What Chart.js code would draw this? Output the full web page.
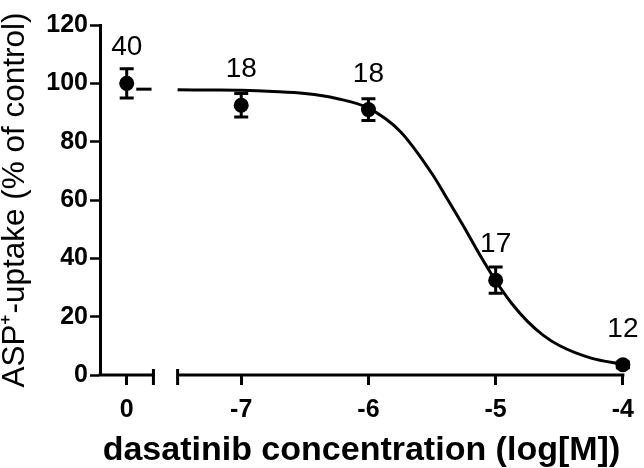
<!DOCTYPE html>
<html>
<head>
<meta charset="utf-8">
<script src="https://cdn.jsdelivr.net/npm/chart.js@4.4.1/dist/chart.umd.min.js"></script>
<style>
  body { margin: 0; background: #fff; }
  #wrap { width: 644px; height: 468px; }
</style>
</head>
<body>
<div id="wrap"><canvas id="chart" width="644" height="468"></canvas></div>
<script>
// x positions on a broken log axis: the control ("0") sits left of the break
var controlX = -7.9;
var breakLeft = -7.69;
var breakRight = -7.5;

var xTicks = [controlX, -7, -6, -5, -4];
var xTickLabels = ['0', '-7', '-6', '-5', '-4'];

// measured means, SEM and n
var pointX = [controlX, -7, -6, -5, -4];
var meanY = [100, 92.5, 91, 32.5, 3.5];
var semY = [5, 4, 3.7, 4.5, 1];
var nLabels = ['40', '18', '18', '17', '12'];

// fitted curve
var curveX = [-7.5, -7.25, -7, -6.75, -6.5, -6.25, -6, -5.75, -5.5, -5.375, -5.25, -5.125, -5, -4.875, -4.75, -4.625, -4.5, -4.25, -4];
var curveY = [97.8, 97.7, 97.6, 97.2, 96.5, 94.8, 91.5, 83.5, 69, 60, 50.8, 41.2, 32.3, 24.6, 18.4, 13.6, 10.1, 5.8, 3.7];

// plateau line drawn next to the control
var controlLineX = [-7.825, -7.705];
var controlLineY = [98, 98];

var fontFam = '"Liberation Sans", Arial, Helvetica, sans-serif';

function toXY(xs, ys) {
  return xs.map(function (x, i) { return { x: x, y: ys[i] }; });
}

// error bars, n labels and the broken x axis
var extras = {
  id: 'extras',
  afterDatasetsDraw: function (chart) {
    var ctx = chart.ctx;
    var xs = chart.scales.x, ys = chart.scales.y;
    ctx.save();
    ctx.strokeStyle = '#000';
    ctx.fillStyle = '#000';
    ctx.lineWidth = 3;
    for (var i = 0; i < pointX.length; i++) {
      var px = xs.getPixelForValue(pointX[i]);
      var top = ys.getPixelForValue(meanY[i] + semY[i]);
      var bot = ys.getPixelForValue(meanY[i] - semY[i]);
      ctx.beginPath();
      ctx.moveTo(px, top); ctx.lineTo(px, bot);
      ctx.moveTo(px - 7, top); ctx.lineTo(px + 7, top);
      ctx.moveTo(px - 7, bot); ctx.lineTo(px + 7, bot);
      ctx.stroke();
      ctx.font = '28px ' + fontFam;
      ctx.textAlign = 'center';
      ctx.textBaseline = 'alphabetic';
      ctx.fillText(nLabels[i], px, ys.getPixelForValue(meanY[i]) - 28);
    }
    // x axis in two pieces
    var y0 = ys.getPixelForValue(0);
    var l = chart.chartArea.left, r = chart.chartArea.right;
    var bl = xs.getPixelForValue(breakLeft), br = xs.getPixelForValue(breakRight);
    ctx.lineWidth = 3;
    ctx.beginPath();
    ctx.moveTo(l - 1.5, y0); ctx.lineTo(bl, y0);
    ctx.moveTo(br, y0); ctx.lineTo(r + 1.5, y0);
    ctx.moveTo(bl, y0 - 6); ctx.lineTo(bl, y0 + 10);
    ctx.moveTo(br, y0 - 6); ctx.lineTo(br, y0 + 10);
    ctx.stroke();
    ctx.restore();
  }
};

var ctx = document.getElementById('chart').getContext('2d');
var chart = new Chart(ctx, {
  type: 'scatter',
  data: {
    datasets: [
      {
        data: toXY(curveX, curveY),
        showLine: true,
        borderColor: '#000',
        borderWidth: 3,
        pointRadius: 0,
        cubicInterpolationMode: 'monotone',
        clip: false
      },
      {
        data: toXY(controlLineX, controlLineY),
        showLine: true,
        borderColor: '#000',
        borderWidth: 3,
        pointRadius: 0
      },
      {
        data: toXY(pointX, meanY),
        showLine: false,
        pointRadius: 7.5,
        pointBackgroundColor: '#000',
        pointBorderColor: '#000',
        pointBorderWidth: 0,
        clip: false
      }
    ]
  },
  options: {
    responsive: false,
    animation: false,
    devicePixelRatio: 1,
    layout: { padding: { top: 25, right: 16, left: 0, bottom: 0 } },
    plugins: { legend: { display: false }, tooltip: { enabled: false } },
    scales: {
      x: {
        type: 'linear',
        min: -8.11,
        max: -4,
        afterBuildTicks: function (scale) {
          scale.ticks = xTicks.map(function (v) { return { value: v }; });
        },
        afterFit: function (scale) { scale.height = 93; },
        border: { display: false },
        grid: { drawOnChartArea: false, drawTicks: true, tickLength: 10, tickWidth: 3, tickColor: '#000' },
        ticks: {
          autoSkip: false,
          maxRotation: 0,
          padding: 10,
          color: '#000',
          font: { family: fontFam, size: 25, weight: 'bold' },
          callback: function (v, i) { return xTickLabels[i]; }
        },
        title: {
          display: true,
          text: 'dasatinib concentration (log[M])',
          color: '#000',
          font: { family: fontFam, size: 34, weight: 'bold', lineHeight: 1 },
          padding: { top: 0, bottom: 0 }
        }
      },
      y: {
        min: 0,
        max: 120,
        afterFit: function (scale) { scale.width = 100; },
        border: { display: true, color: '#000', width: 3 },
        grid: { drawOnChartArea: false, drawTicks: true, tickLength: 10, tickWidth: 2.5, tickColor: '#000' },
        ticks: {
          stepSize: 20,
          padding: 2,
          color: '#000',
          font: { family: fontFam, size: 25, weight: 'bold' }
        },
        title: {
          display: true,
          text: 'ASP\u207A-uptake (% of control)',
          color: '#000',
          font: { family: fontFam, size: 31.5, lineHeight: 1 },
          padding: { top: 0, bottom: 0 }
        }
      }
    }
  },
  plugins: [extras]
});
</script>
</body>
</html>
